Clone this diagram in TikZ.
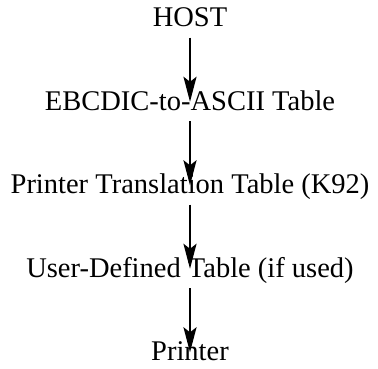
\documentclass[tikz,border=0pt]{standalone}
\usepackage{fontspec}
\setmainfont{Liberation Serif}
\usetikzlibrary{arrows.meta}

\tikzstyle{custtext} = [inner sep=0pt, text height=19pt, text depth=0pt, font=\fontsize{28.5}{34}\selectfont]
\tikzstyle{custarrow} = [-{Stealth[length=25pt, width=13pt, inset=5pt]}, line width=2.4pt, shorten <=11pt, shorten >=-11pt]

\begin{document}
\begin{tikzpicture}[x=1pt, y=1pt, node distance=83.5pt]
\useasboundingbox (0,0) rectangle (378,-368);
%Custom blocks
\node (host) [custtext] at (190,-17) {HOST};
\node (ebcdic) [custtext,below of=host] {EBCDIC-to-ASCII Table};
\node (k92) [custtext,below of=ebcdic] {Printer Translation Table (K92)};
\node (userdef) [custtext,below of=k92] {User-Defined Table (if used)};
\node (printer) [custtext,below of=userdef] {Printer};

%Arrows
\draw [custarrow] (host.south) -- (ebcdic.north);
\draw [custarrow] (ebcdic.south) -- (k92.north);
\draw [custarrow] (k92.south) -- (userdef.north);
\draw [custarrow] (userdef.south) -- (printer.north);
\end{tikzpicture}
\end{document}
